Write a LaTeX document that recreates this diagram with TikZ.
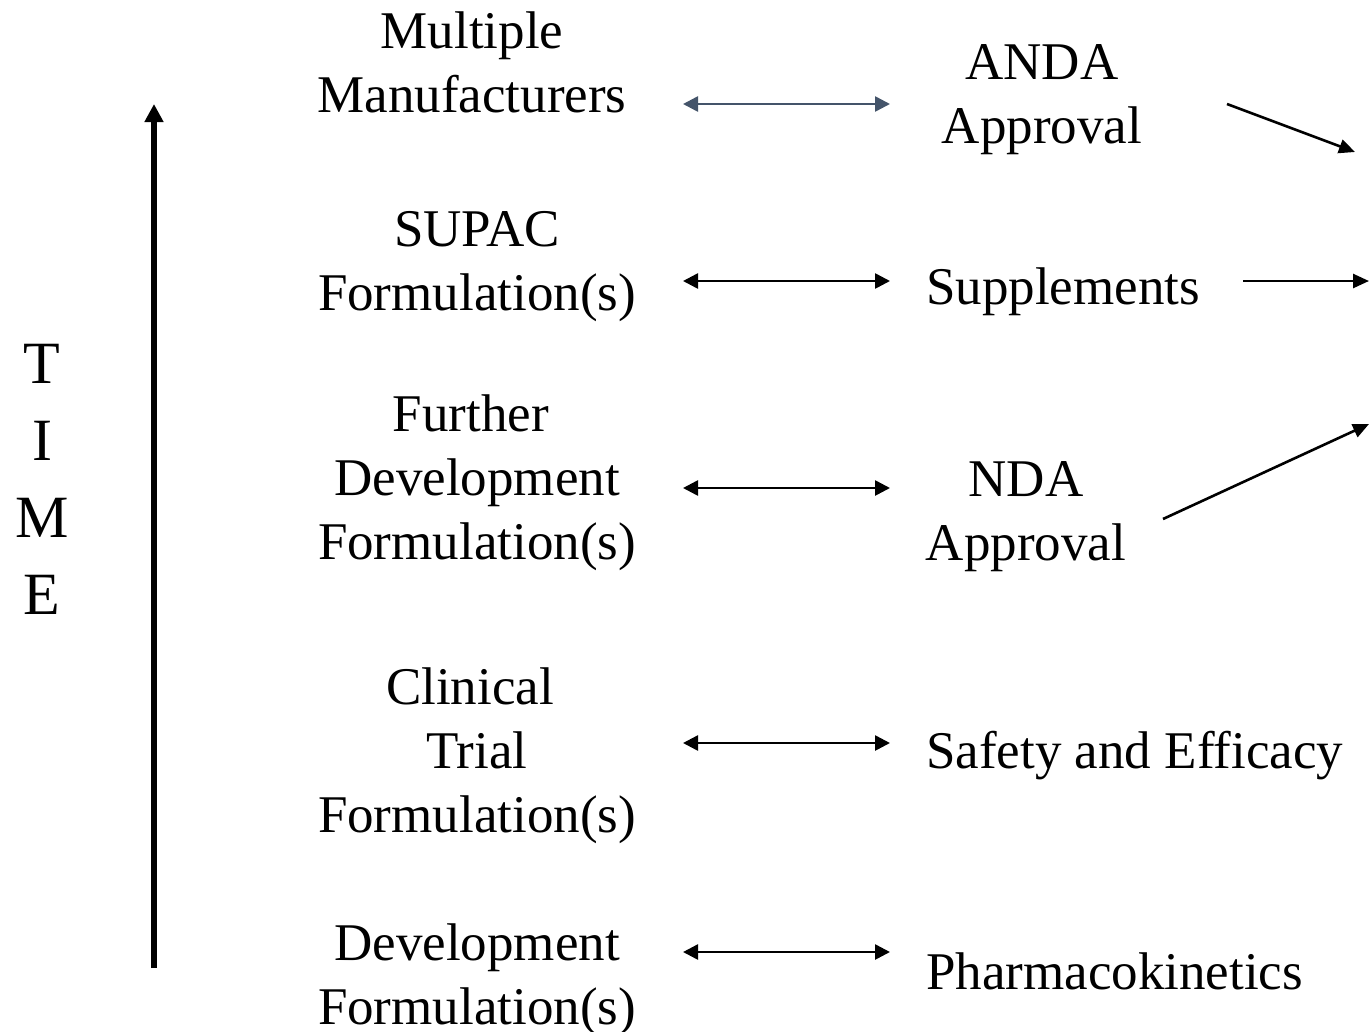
\documentclass[tikz,border=0pt]{standalone}
\usepackage{fontspec}
\setmainfont{Liberation Serif}
\usetikzlibrary{arrows.meta}
\definecolor{slate}{HTML}{44546A}
\begin{document}
\begin{tikzpicture}[x=1pt,y=-1pt,
  lbl/.style={inner sep=0pt,align=center,font=\fontsize{53}{64}\selectfont},
  timelbl/.style={inner sep=0pt,align=center,font=\fontsize{60}{77}\selectfont},
  dbl/.style={line width=2.6pt,{Triangle[length=15pt,width=15pt]}-{Triangle[length=15pt,width=15pt]}},
  one/.style={line width=2.6pt,-{Triangle[length=16pt,width=14pt]}},
  timearrow/.style={line width=5.5pt,-{Triangle[length=18pt,width=18pt]}}]
\useasboundingbox (0,0) rectangle (1370,1031);
% left column (anchor = baseline of last line)
\node[lbl,anchor=base] (mm) at (472,112) {Multiple\\Manufacturers};
\node[lbl,anchor=base] (supac) at (477,310) {SUPAC\\Formulation(s)};
\node[lbl,anchor=base] (further) at (477,559) {Further\hbox to 12pt{}\\Development\\Formulation(s)};
\node[lbl,anchor=base] (clinical) at (477,832) {Clinical\hbox to 14pt{}\\Trial\\Formulation(s)};
\node[lbl,anchor=base] (dev) at (477,1024) {Development\\Formulation(s)};
% right column
\node[lbl,anchor=base] (anda) at (1042,143) {ANDA\\Approval};
\node[lbl,anchor=base west] (supp) at (926,304) {Supplements};
\node[lbl,anchor=base] (nda) at (1026,560) {NDA\\Approval};
\node[lbl,anchor=base west] (safety) at (926,768) {Safety and Efficacy};
\node[lbl,anchor=base west] (pk) at (926,989) {Pharmacokinetics};
% time
\node[timelbl,anchor=base] (time) at (42,614) {T\\I\\M\\E};
% coordinates
\coordinate (t0) at (154,968);
\coordinate (t1) at (154,104);
\coordinate (a1l) at (683,104); \coordinate (a1r) at (890,104);
\coordinate (a2l) at (683,281); \coordinate (a2r) at (890,281);
\coordinate (a3l) at (683,488); \coordinate (a3r) at (890,488);
\coordinate (a4l) at (683,743); \coordinate (a4r) at (890,743);
\coordinate (a5l) at (683,952); \coordinate (a5r) at (890,952);
\coordinate (d1s) at (1227,104); \coordinate (d1e) at (1355,152);
\coordinate (d2s) at (1243,281); \coordinate (d2e) at (1369,281);
\coordinate (d3s) at (1163,519); \coordinate (d3e) at (1369,424);
% arrows
\draw[timearrow] (t0) -- (t1);
\draw[dbl,draw=slate,fill=slate] (a1l) -- (a1r);
\draw[dbl] (a2l) -- (a2r);
\draw[dbl] (a3l) -- (a3r);
\draw[dbl] (a4l) -- (a4r);
\draw[dbl] (a5l) -- (a5r);
\draw[one] (d1s) -- (d1e);
\draw[one] (d2s) -- (d2e);
\draw[one] (d3s) -- (d3e);
\end{tikzpicture}
\end{document}
